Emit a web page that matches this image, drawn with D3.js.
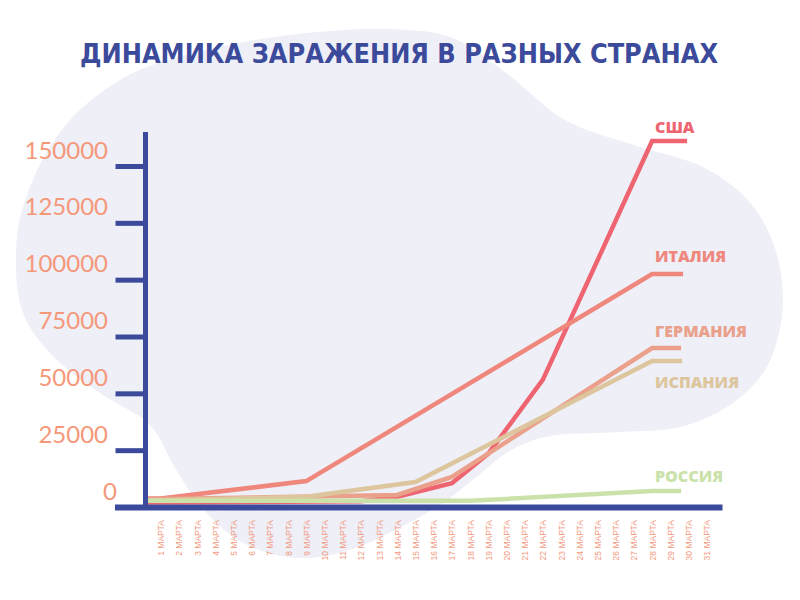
<!DOCTYPE html>
<html>
<head>
<meta charset="utf-8">
<script src="https://cdn.jsdelivr.net/npm/d3@7"></script>
<style>
  body { margin: 0; background: #fff; }
</style>
</head>
<body>
<div id="chart"></div>
<script>
// days of March shown on the x axis
var days = [1, 2, 3, 4, 5, 6, 7, 8, 9, 10, 11, 12, 13, 14, 15, 16,
            17, 18, 19, 20, 21, 22, 23, 24, 25, 26, 27, 28, 29, 30, 31];
var yTicks = [0, 25000, 50000, 75000, 100000, 125000, 150000];

var countries = ["США", "ИТАЛИЯ", "ГЕРМАНИЯ", "ИСПАНИЯ", "РОССИЯ"];

// vertices (day of March, total cases)
var usaDays = [1, 12, 14, 17, 19, 22, 28];
var usaCases = [2000, 2500, 4500, 10500, 23500, 56000, 161000];
var italyDays = [1, 9, 28];
var italyCases = [3700, 11400, 102500];
var germanyDays = [1, 14, 17, 28];
var germanyCases = [3500, 5300, 13200, 69900];
var spainDays = [1, 9, 15, 28];
var spainCases = [3000, 4500, 11000, 64200];
var russiaDays = [1, 18, 28];
var russiaCases = [2700, 2700, 7000];

var seriesDays = [usaDays, italyDays, germanyDays, spainDays, russiaDays];
var seriesCases = [usaCases, italyCases, germanyCases, spainCases, russiaCases];

var colors = ["#ee6571", "#ef877d", "#eaa08a", "#ddc59d", "#cae2aa"];
var tails = [35, 31, 29, 30, 29];
var labelDy = [-8, -12, -11, 27, -9];

var navy = "#3c4a9b";

var svg = d3.select("#chart")
  .append("svg")
    .attr("width", 800)
    .attr("height", 600);

// background blob
var blob = [[17,237],[30,187],[50,147],[83,107],[133,73],[190,54],[255,40],[330,31],
  [385,29],[450,37],[505,72],[565,120],[640,147],[705,168],[752,205],[777,255],
  [782,315],[765,370],[730,405],[680,427],[620,432],[545,437],[508,452],[475,478],
  [440,505],[395,530],[355,548],[310,558],[265,552],[228,533],[200,505],[175,468],
  [150,425],[100,393],[50,353],[22,310]];

svg.append("path")
  .attr("d", d3.line().curve(d3.curveCatmullRomClosed)(blob))
  .style("fill", "#eeeff7");

// title
svg.append("text")
  .attr("x", 399)
  .attr("y", 63)
  .attr("text-anchor", "middle")
  .attr("textLength", 638)
  .attr("lengthAdjust", "spacingAndGlyphs")
  .style("font-family", "'DejaVu Sans'")
  .style("font-weight", "bold")
  .style("font-size", "26px")
  .style("fill", navy)
  .text("ДИНАМИКА ЗАРАЖЕНИЯ В РАЗНЫХ СТРАНАХ");

var x = d3.scaleLinear()
  .domain([1, 31])
  .range([160.7, 706.7]);

var y = d3.scaleLinear()
  .domain([0, 150000])
  .range([507, 166]);

var axisX = 145.5;

// lines
var line = d3.line()
  .x(function(d) { return d[0]; })
  .y(function(d) { return d[1]; });

var order = [0, 1, 2, 3, 4];
order.forEach(function(i) {
  var dd = seriesDays[i], cc = seriesCases[i];
  var pts = dd.map(function(d, j) { return [x(d), y(cc[j])]; });
  var first = pts[0], last = pts[pts.length - 1];
  pts.unshift([axisX + 1, first[1]]);
  pts.push([last[0] + tails[i], last[1]]);
  svg.append("path")
    .attr("d", line(pts))
    .style("fill", "none")
    .style("stroke", colors[i])
    .style("stroke-width", 4.5)
    .style("stroke-linejoin", "miter");
});

// labels at the end of the lines
countries.forEach(function(name, i) {
  var cc = seriesCases[i];
  svg.append("text")
    .attr("x", 655)
    .attr("y", y(cc[cc.length - 1]) + labelDy[i])
    .style("font-family", "'Open Sans'")
    .style("font-weight", 800)
    .style("font-size", "16px")
    .style("fill", colors[i])
    .text(name);
});

// y axis
var yAxis = svg.append("g")
  .attr("transform", "translate(" + axisX + ",0)")
  .call(d3.axisLeft(y).tickValues(yTicks).tickSize(30).tickPadding(7)
        .tickFormat(d3.format("d")));
yAxis.select(".domain").remove();
yAxis.selectAll(".tick line")
  .style("stroke", navy)
  .style("stroke-width", 5);
yAxis.selectAll(".tick text")
  .attr("dy", 0)
  .attr("y", -8)
  .attr("x", function(d) { return d === 0 ? -28.5 : -37.5; })
  .style("font-family", "Lato")
  .style("font-weight", 400)
  .style("font-size", "24px")
  .style("fill", "#f5987a");

svg.append("line")
  .attr("x1", axisX).attr("x2", axisX)
  .attr("y1", 132).attr("y2", 510)
  .style("stroke", navy)
  .style("stroke-width", 5);

// x axis
var xAxis = svg.append("g")
  .attr("transform", "translate(0," + y(0) + ")")
  .call(d3.axisBottom(x).tickValues(days).tickSize(0)
        .tickFormat(function(d) { return d + " МАРТА"; }));
xAxis.select(".domain").remove();
xAxis.selectAll(".tick text")
  .attr("x", 0)
  .attr("y", 0)
  .attr("dy", 0)
  .attr("transform", "translate(3,13) rotate(-90)")
  .attr("text-anchor", "end")
  .style("font-family", "'Liberation Sans'")
  .style("font-size", "8.5px")
  .style("fill", "#f39a80");

svg.append("line")
  .attr("x1", 115).attr("x2", 722.5)
  .attr("y1", y(0) + 0.5).attr("y2", y(0) + 0.5)
  .style("stroke", navy)
  .style("stroke-width", 6);
</script>
</body>
</html>
